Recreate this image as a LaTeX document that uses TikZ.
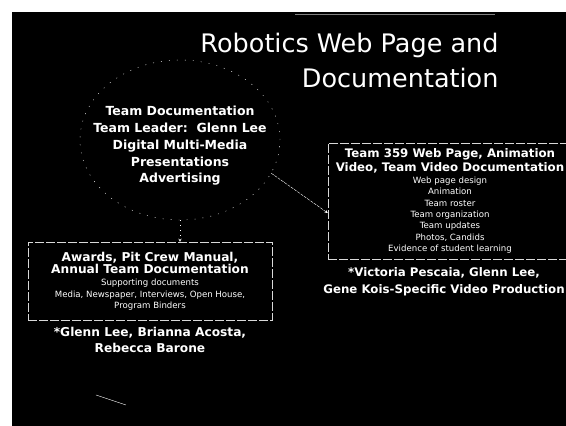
\documentclass[tikz,border=0pt]{standalone}
\usepackage{fontspec}
\setmainfont{DejaVu Sans}
\usetikzlibrary{shapes.geometric, arrows, positioning}
\tikzstyle{heading} = [text=white, align=right, font=\fontsize{25.5}{35}\selectfont]
\tikzstyle{ring} = [ellipse, minimum width=200pt, minimum height=160pt, inner sep=0pt, draw=white, dash pattern=on 1pt off 7pt]
\tikzstyle{ovaltext} = [text=white, align=center, font=\bfseries\fontsize{12.5}{16.7}\selectfont]
\tikzstyle{infobox} = [rectangle, draw=white!85!black, dash pattern=on 9pt off 2pt, text=white, align=center, inner sep=0pt, font=\fontsize{8.6}{11.3}\selectfont]
\tikzstyle{crew} = [text=white, align=center, font=\bfseries\fontsize{11.8}{17}\selectfont]
\tikzstyle{arrow} = [white, thin, dash pattern=on 3pt off 1pt, ->, >=stealth]

\begin{document}
\begin{tikzpicture}[x=1pt, y=1pt]
\useasboundingbox (0,0) rectangle (566,426);
\fill [black] (12,0) rectangle (566,414);
\draw [gray, thin] (295,412) -- (495,412);

\node (title) [heading, anchor=east] at (502,366) {Robotics Web Page and\\Documentation};

\node (oval) [ring] at (180,286) {};
\node (duties) [ovaltext] at (180,280) {Team Documentation\\Team Leader:\ \ Glenn Lee\\Digital Multi-Media\\Presentations\\Advertising};

\node (webbox) [infobox, minimum width=244pt, minimum height=116pt] at (450,225) {{\bfseries\fontsize{11.8}{16}\selectfont Team 359 Web Page, Animation}\\[1pt]
{\bfseries\fontsize{11.8}{16}\selectfont Video, Team Video Documentation}\\[1pt]
Web page design\\Animation\\Team roster\\Team organization\\Team updates\\Photos, Candids\\Evidence of student learning};
\node (webcrew) [crew, below=5pt of webbox, xshift=-6pt] {*Victoria Pescaia, Glenn Lee,\\Gene Kois-Specific Video Production};

\node (awardbox) [infobox, minimum width=244pt, minimum height=78pt] at (150,145) {{\bfseries\fontsize{12.2}{16}\selectfont Awards, Pit Crew Manual,}\\[1pt]
{\bfseries\fontsize{12.2}{16}\selectfont Annual Team Documentation}\\[1pt]
Supporting documents\\Media, Newspaper, Interviews, Open House,\\Program Binders};
\node (awardcrew) [crew, below=3pt of awardbox, font=\bfseries\fontsize{12.2}{17}\selectfont] {*Glenn Lee, Brianna Acosta,\\Rebecca Barone};

\draw [arrow] (oval.-20) -- ([yshift=-12pt]webbox.west);
\draw [arrow, dash pattern=on 1pt off 4pt] (oval.south) -- (oval.south |- awardbox.north);

\draw [white, thin] (96,31) -- (126,21);
\end{tikzpicture}
\end{document}
